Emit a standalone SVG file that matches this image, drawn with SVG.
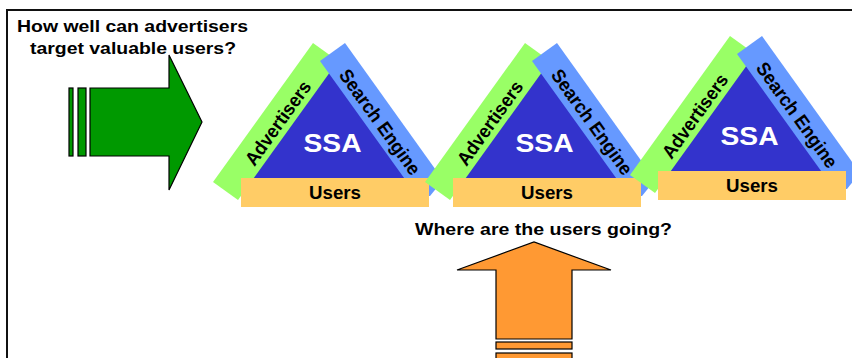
<svg xmlns="http://www.w3.org/2000/svg" width="852" height="358" viewBox="0 0 852 358">
<style>
.t{font-family:"Liberation Sans",Arial,sans-serif;font-weight:bold;fill:#000}
.core{fill:#3333CC}
.adv{fill:#99FF66}
.se{fill:#6699FF}
.usr{fill:#FFCC66}
.ssa{fill:#fff}
.arr{stroke:#000;stroke-width:1.2}
</style>
<defs>
<g id="triangle">
<polygon class="core" points="329,66 238,192 420,192"/>
<polygon class="adv" points="313,43 338,61 238,200 213,182"/>
<polygon class="se" points="345,43 443,180 430,196 417,196 320,61"/>
<rect class="usr" x="241" y="178" width="188" height="29"/>
<text class="t" transform="translate(278,123) rotate(-54.3)" y="6.5" text-anchor="middle" font-size="19" textLength="99" lengthAdjust="spacingAndGlyphs">Advertisers</text>
<text class="t" transform="translate(380,122) rotate(54.3)" y="6.5" text-anchor="middle" font-size="19" textLength="125" lengthAdjust="spacingAndGlyphs">Search Engine</text>
<text class="t ssa" x="332.5" y="152" text-anchor="middle" font-size="25" textLength="58" lengthAdjust="spacingAndGlyphs">SSA</text>
<text class="t" x="335" y="199" text-anchor="middle" font-size="17.5" textLength="52" lengthAdjust="spacingAndGlyphs">Users</text>
</g>
</defs>
<path d="M7,358 V10 H852" fill="none" stroke="#111" stroke-width="2"/>
<g id="question-advertisers">
<text class="t" x="17" y="32" font-size="16" textLength="231" lengthAdjust="spacingAndGlyphs">How well can advertisers</text>
<text class="t" x="30" y="54" font-size="16" textLength="206" lengthAdjust="spacingAndGlyphs">target valuable users?</text>
</g>
<g id="question-users">
<text class="t" x="415" y="235" font-size="16" textLength="257" lengthAdjust="spacingAndGlyphs">Where are the users going?</text>
</g>
<g id="connectors">
<g id="arrow-green" fill="#009900" class="arr">
<rect x="69" y="88" width="4" height="68"/>
<rect x="78" y="88" width="8" height="68"/>
<polygon points="90,88 169,88 169,55 202,122 169,190 169,156 90,156"/>
</g>
<g id="arrow-orange" fill="#FF9933" class="arr">
<polygon points="496,339 496,270 457,270 534,242 611,270 572,270 572,339"/>
<rect x="496" y="342" width="76" height="7"/>
<rect x="496" y="353" width="76" height="8"/>
</g>
</g>
<g id="ssa-1"><use href="#triangle"/></g>
<g id="ssa-2"><use href="#triangle" transform="translate(212,0)"/></g>
<g id="ssa-3"><use href="#triangle" transform="translate(417,-7)"/></g>
</svg>
